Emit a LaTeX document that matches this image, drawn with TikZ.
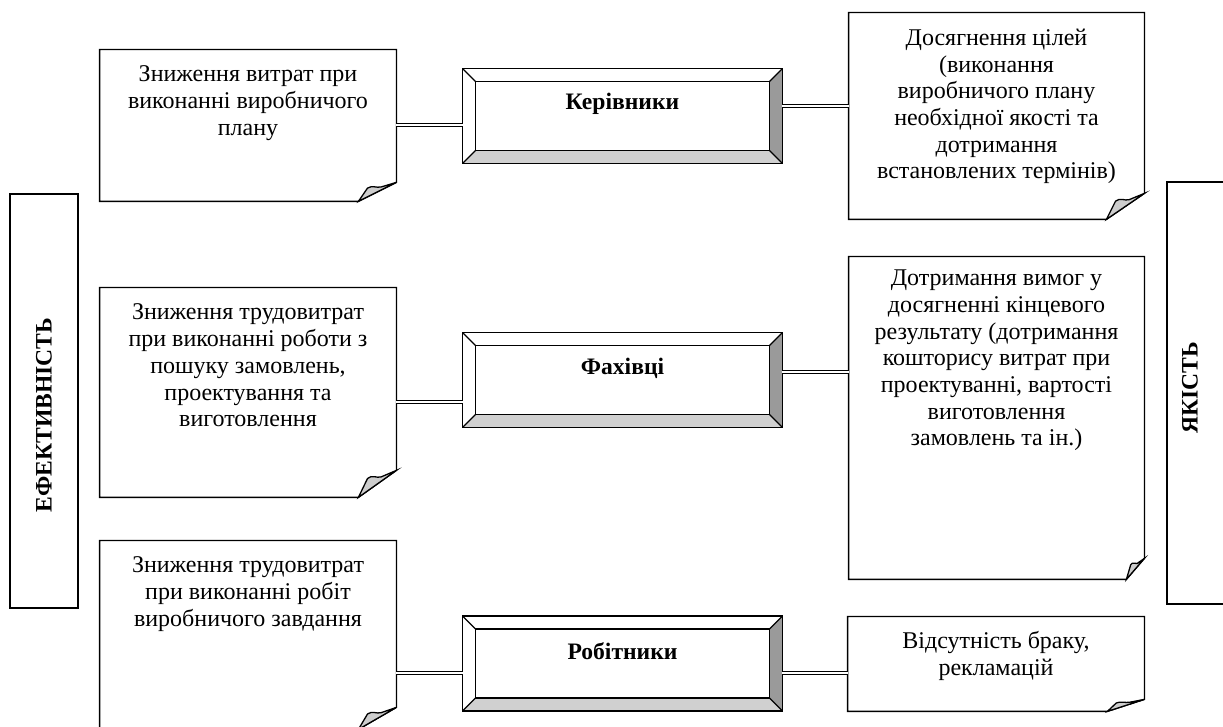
\documentclass[tikz,border=0pt]{standalone}
\usepackage{fontspec}
\setmainfont{Liberation Serif}
\usepackage{xcolor}
\definecolor{BevelDark}{HTML}{9A9A9A}
\definecolor{BevelLight}{HTML}{D0D0D0}
\definecolor{Curl}{HTML}{CDCDCD}

% folded note outline: node, fold width, fold height (px)
\newcommand\foldnote[3]{%
  \draw[noteline] (#1.north west) -- (#1.north east)
    -- ([shift={(0,-#3)}]#1.south east)
    -- ([shift={(-#2,0)}]#1.south east) -- (#1.south west) -- cycle;
  \filldraw[noteline,fill=Curl] ([shift={(-#2,0)}]#1.south east)
    -- ([shift={({-0.76*#2},{-0.7*#3})}]#1.south east)
    .. controls ([shift={({-0.64*#2},{-0.86*#3})}]#1.south east) and ([shift={({-0.52*#2},{-0.7*#3})}]#1.south east)
    .. ([shift={({-0.4*#2},{-0.76*#3})}]#1.south east)
    -- ([shift={(0,-#3)}]#1.south east) -- cycle;
}
% bevelled frame round a node
\newcommand\bevelbox[1]{%
  \fill[BevelDark] (#1.north east) -- (#1.south east)
    -- ([shift={(-13,-13)}]#1.south east) -- ([shift={(-13,13)}]#1.north east) -- cycle;
  \fill[BevelLight] (#1.south west) -- (#1.south east)
    -- ([shift={(-13,-13)}]#1.south east) -- ([shift={(13,-13)}]#1.south west) -- cycle;
  \draw[noteline] (#1.north west) rectangle (#1.south east);
  \draw[noteline] ([shift={(13,13)}]#1.north west) rectangle ([shift={(-13,-13)}]#1.south east);
  \draw[noteline] (#1.north west) -- ++(13,13) (#1.north east) -- ++(-13,13)
    (#1.south west) -- ++(13,-13) (#1.south east) -- ++(-13,-13);
}

\begin{document}
\begin{tikzpicture}[x=0.5pt,y=-0.5pt,
  note/.style={minimum width=148pt,inner sep=0pt},
  notetext/.style={font=\fontsize{12pt}{13.35pt}\selectfont,align=center,inner sep=0pt,anchor=north},
  boss/.style={minimum width=159.5pt,minimum height=47pt,inner sep=0pt},
  bosstext/.style={font=\fontsize{11.8pt}{13pt}\selectfont\bfseries,inner sep=0pt},
  side/.style={draw,line width=0.65pt,inner sep=0pt},
  sidetext/.style={font=\fontsize{11.8pt}{13pt}\selectfont\bfseries,rotate=90,inner sep=0pt},
  noteline/.style={line width=0.65pt,line join=miter},
  link/.style={double,double distance=1.2pt,line width=0.5pt}
]
\clip (0,0) rectangle (1223,727);

% side frames
\node[side,minimum width=34pt,minimum height=207pt] (eff) at (44,401) {};
\node[sidetext] (efftext) at (44,415) {ЕФЕКТИВНІСТЬ};
\node[side,minimum width=36.5pt,minimum height=211pt] (qual) at (1203.5,393) {};
\node[sidetext] (qualtext) at (1190,388) {ЯКІСТЬ};

% left notes
\node[note,minimum height=75.5pt] (ef1) at (248,125.5) {};
\node[note,minimum height=104.5pt] (ef2) at (248,392.5) {};
\node[note,minimum height=94pt] (ef3) at (248,635) {};
\foldnote{ef1}{38}{19}
\foldnote{ef2}{38}{27}
\foldnote{ef3}{38}{22}
\node[notetext] (ef1text) at ([yshift=-8pt]ef1.north) {Зниження витрат при\\виконанні виробничого\\плану};
\node[notetext] (ef2text) at ([yshift=-8pt]ef2.north) {Зниження трудовитрат\\при виконанні роботи з\\пошуку замовлень,\\проектування та\\виготовлення};
\node[notetext] (ef3text) at ([yshift=-8pt]ef3.north) {Зниження трудовитрат\\при виконанні робіт\\виробничого завдання};

% right notes
\node[note,minimum width=147.5pt,minimum height=103pt] (q1) at (996.5,116) {};
\node[note,minimum width=147.5pt,minimum height=161pt] (q2) at (996.5,418) {};
\node[note,minimum height=47pt] (q3) at (996,664) {};
\foldnote{q1}{38}{26}
\foldnote{q2}{18}{21}
\foldnote{q3}{37}{12}
\node[notetext] (q1text) at ([yshift=-8pt]q1.north) {Досягнення цілей\\(виконання\\виробничого плану\\необхідної якості та\\дотримання\\встановлених термінів)};
\node[notetext] (q2text) at ([yshift=-6.5pt]q2.north) {Дотримання вимог у\\досягненні кінцевого\\результату (дотримання\\кошторису витрат при\\проектуванні, вартості\\виготовлення\\замовлень та ін.)};
\node[notetext] (q3text) at ([yshift=-7.4pt]q3.north) {Відсутність браку,\\рекламацій};

% centre boxes
\node[boss] (head) at (622.5,116) {};
\node[boss] (expert) at (622.5,380) {};
\node[boss] (worker) at (622.5,663.5) {};
\bevelbox{head}
\bevelbox{expert}
\bevelbox{worker}
\node[bosstext] (headtext) at ([yshift=6pt]head.center) {Керівники};
\node[bosstext] (experttext) at ([yshift=6pt]expert.center) {Фахівці};
\node[bosstext] (workertext) at ([yshift=6pt]worker.center) {Робітники};

% links
\coordinate (hl) at ([yshift=-4.5pt]head.west);
\coordinate (hr) at ([yshift=5pt]head.east);
\coordinate (el) at ([yshift=-11pt]expert.west);
\coordinate (er) at ([yshift=4pt]expert.east);
\coordinate (wl) at ([yshift=-4.75pt]worker.west);
\coordinate (wr) at ([yshift=-4.75pt]worker.east);
\draw[link] (hl) -- (hl -| ef1.east);
\draw[link] (hr) -- (hr -| q1.west);
\draw[link] (el) -- (el -| ef2.east);
\draw[link] (er) -- (er -| q2.west);
\draw[link] (wl) -- (wl -| ef3.east);
\draw[link] (wr) -- (wr -| q3.west);
\end{tikzpicture}
\end{document}
